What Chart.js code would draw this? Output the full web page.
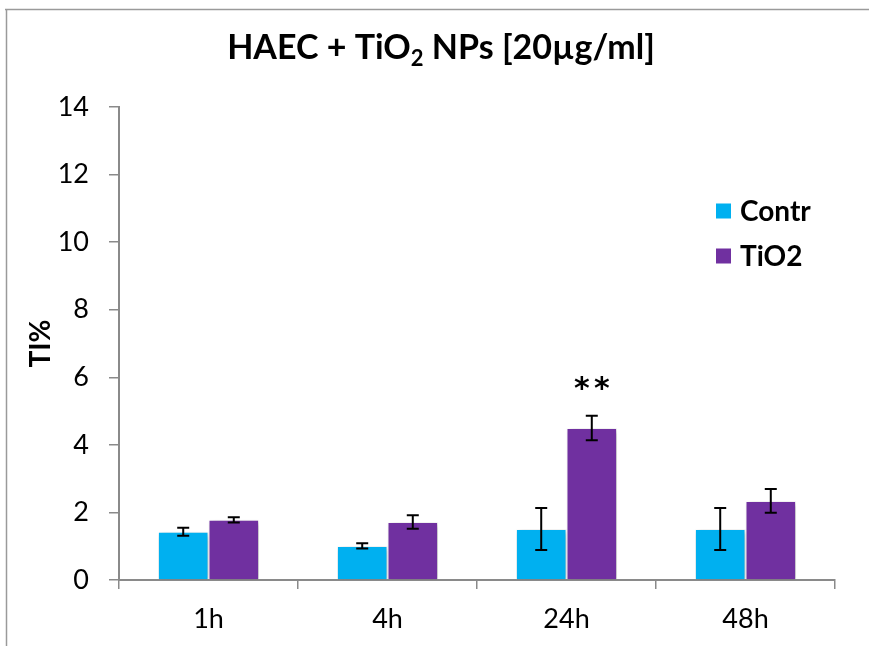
<!DOCTYPE html>
<html>
<head>
<meta charset="utf-8">
<script src="https://cdn.jsdelivr.net/npm/chart.js@4"></script>
<style>
  body { margin: 0; background: #fff; }
  canvas { display: block; }
</style>
</head>
<body>
<canvas id="tiChart" width="869" height="646"></canvas>
<script>
  // data
  const categories = ['1h', '4h', '24h', '48h'];
  const contrValues = [1.43, 1.01, 1.51, 1.51];
  const contrErrors = [0.12, 0.08, 0.62, 0.62];
  const tio2Values = [1.78, 1.72, 4.50, 2.34];
  const tio2Errors = [0.08, 0.20, 0.36, 0.35];
  const tio2Marks = ['', '', '**', ''];
  const yTicks = [0, 2, 4, 6, 8, 10, 12, 14];

  const FONT = 'Lato, "Open Sans", sans-serif';
  const AXIS_GREY = '#8a8a8a';

  // frame lines around the figure (top + left only, like the original)
  const framePlugin = {
    id: 'frame',
    beforeDraw(chart) {
      const ctx = chart.ctx;
      ctx.save();
      ctx.strokeStyle = '#9a9a9a';
      ctx.lineWidth = 1.5;
      ctx.beginPath();
      ctx.moveTo(5, 9.5);
      ctx.lineTo(chart.width, 9.5);
      ctx.moveTo(6.5, 9);
      ctx.lineTo(6.5, chart.height);
      ctx.stroke();
      ctx.restore();
    }
  };

  // title with subscript 2
  const titlePlugin = {
    id: 'subTitle',
    afterDraw(chart) {
      const ctx = chart.ctx;
      const parts = [
        { t: 'HAEC + TiO', size: 34, dy: 0 },
        { t: '2', size: 22, dy: 7 },
        { t: ' NPs [20\u00B5g/ml]', size: 34, dy: 0 }
      ];
      ctx.save();
      ctx.fillStyle = '#000';
      ctx.textBaseline = 'alphabetic';
      let total = 0;
      parts.forEach(p => {
        ctx.font = 'bold ' + p.size + 'px ' + FONT;
        p.w = ctx.measureText(p.t).width;
        total += p.w;
      });
      let x = 441 - total / 2;
      parts.forEach(p => {
        ctx.font = 'bold ' + p.size + 'px ' + FONT;
        ctx.fillText(p.t, x, 59 + p.dy);
        x += p.w;
      });
      ctx.restore();
    }
  };

  // soft shadow behind bars
  const shadowPlugin = {
    id: 'barShadow',
    beforeDatasetsDraw(chart) {
      const ctx = chart.ctx;
      ctx.save();
      ctx.shadowColor = 'rgba(0,0,0,0.28)';
      ctx.shadowBlur = 6;
      ctx.shadowOffsetX = 2;
      ctx.shadowOffsetY = 2;
    },
    afterDatasetsDraw(chart) {
      chart.ctx.restore();
    }
  };

  // error bars + significance marks
  const errorPlugin = {
    id: 'errorBars',
    afterDatasetsDraw(chart) {
      const ctx = chart.ctx;
      const y = chart.scales.y;
      ctx.save();
      ctx.strokeStyle = '#000';
      ctx.lineWidth = 2;
      chart.data.datasets.forEach((ds, i) => {
        const meta = chart.getDatasetMeta(i);
        meta.data.forEach((bar, j) => {
          const v = ds.data[j];
          const e = ds.errors[j];
          const top = y.getPixelForValue(v + e);
          const bot = y.getPixelForValue(v - e);
          const cap = 6;
          ctx.beginPath();
          ctx.moveTo(bar.x, top);
          ctx.lineTo(bar.x, bot);
          ctx.moveTo(bar.x - cap, top);
          ctx.lineTo(bar.x + cap, top);
          ctx.moveTo(bar.x - cap, bot);
          ctx.lineTo(bar.x + cap, bot);
          ctx.stroke();
          if (ds.marks && ds.marks[j]) {
            // each star drawn on its own, spaced like the original
            const stars = ds.marks[j].split('');
            const step = 20;
            ctx.fillStyle = '#000';
            ctx.font = 'bold 30px "DejaVu Sans", sans-serif';
            ctx.textAlign = 'center';
            ctx.textBaseline = 'top';
            stars.forEach((s, k) => {
              const sx = bar.x + (k - (stars.length - 1) / 2) * step;
              ctx.fillText(s, sx, top - 41);
            });
          }
        });
      });
      ctx.restore();
    }
  };

  // legend drawn inside the plot on the right
  const legendPlugin = {
    id: 'sideLegend',
    afterDraw(chart) {
      const ctx = chart.ctx;
      ctx.save();
      ctx.textBaseline = 'middle';
      ctx.font = 'bold 28px ' + FONT;
      chart.data.datasets.forEach((ds, i) => {
        const cy = 211 + i * 45;
        ctx.fillStyle = ds.backgroundColor;
        ctx.fillRect(716, cy - 7.5, 15, 15);
        ctx.fillStyle = '#000';
        ctx.fillText(ds.label, 740, cy + 1);
      });
      ctx.restore();
    }
  };

  new Chart(document.getElementById('tiChart'), {
    type: 'bar',
    data: {
      labels: categories,
      datasets: [{
        label: 'Contr',
        data: contrValues,
        errors: contrErrors,
        backgroundColor: '#00B0F0',
        borderColor: '#ffffff',
        borderWidth: 1
      }, {
        label: 'TiO2',
        data: tio2Values,
        errors: tio2Errors,
        marks: tio2Marks,
        backgroundColor: '#7030A0',
        borderColor: '#ffffff',
        borderWidth: 1
      }]
    },
    options: {
      responsive: false,
      animation: false,
      layout: { padding: { top: 107, right: 34, left: 8, bottom: 0 } },
      datasets: { bar: { categoryPercentage: 0.565, barPercentage: 1 } },
      plugins: {
        legend: { display: false },
        tooltip: { enabled: false }
      },
      scales: {
        x: {
          afterFit(scale) { scale.height = 66; },
          border: { color: AXIS_GREY, width: 2 },
          grid: { drawOnChartArea: false, color: AXIS_GREY, lineWidth: 1.5, tickLength: 9 },
          ticks: { color: '#000', font: { family: FONT, size: 27 }, padding: 14 }
        },
        y: {
          min: 0,
          max: 14,
          afterFit(scale) { scale.width = 111; },
          afterBuildTicks(scale) { scale.ticks = yTicks.map(v => ({ value: v })); },
          border: { color: AXIS_GREY, width: 2 },
          grid: { drawOnChartArea: false, color: AXIS_GREY, lineWidth: 1.5, tickLength: 10 },
          ticks: { color: '#000', font: { family: FONT, size: 27 }, padding: 20 },
          title: {
            display: true,
            text: 'TI%',
            color: '#000',
            font: { family: FONT, size: 28, weight: 'bold' },
            padding: { top: 16, bottom: 0 }
          }
        }
      }
    },
    plugins: [framePlugin, shadowPlugin, errorPlugin, titlePlugin, legendPlugin]
  });
</script>
</body>
</html>
